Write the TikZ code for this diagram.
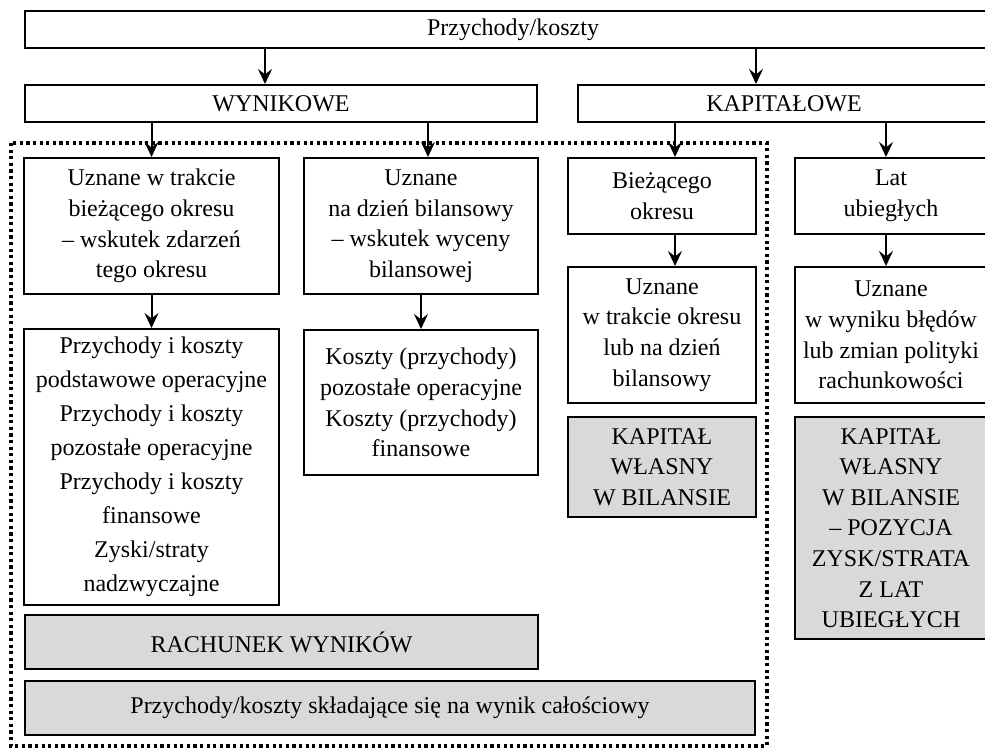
\documentclass[tikz,border=0pt]{standalone}
\usepackage{fontspec}
\setmainfont{Liberation Serif}
\usepackage{tikz}
\usetikzlibrary{arrows.meta}
\definecolor{boxgray}{RGB}{217,217,217}

\begin{document}
\begin{tikzpicture}[x=0.5pt, y=-0.5pt,
  every node/.style={draw, line width=1pt, align=center, inner sep=0pt,
    font=\fontsize{12}{15.3}\selectfont},
  grbox/.style={fill=boxgray},
  arr/.style={-{Stealth[length=7.5pt, width=7pt, inset=2.7pt]}, line width=1pt}]
  \useasboundingbox (0,0) rectangle (985,749);
  \clip (0,0) rectangle (985,749);
  \node [minimum width=488pt, minimum height=18.5pt] (top) at (513,29.5) {Przychody/koszty};
  \node [minimum width=256pt, minimum height=18.5pt] (wyn) at (281,103.5) {WYNIKOWE};
  \node [minimum width=206pt, minimum height=18.5pt] (kap) at (784,103.5) {KAPITAŁOWE};
  \node [minimum width=127.5pt, minimum height=68pt] (a) at (151.5,226) {Uznane w trakcie\\bieżącego okresu\\– wskutek zdarzeń\\tego okresu};
  \node [minimum width=117pt, minimum height=68pt] (b) at (421,226) {Uznane\\na dzień bilansowy\\– wskutek wyceny\\bilansowej};
  \node [minimum width=94pt, minimum height=38pt] (c) at (662,196) {Bieżącego\\okresu};
  \node [minimum width=96pt, minimum height=38pt] (d) at (891,196) {Lat\\ubiegłych};
  \node [minimum width=127.5pt, minimum height=138pt, font=\fontsize{12}{17}\selectfont] (a2) at (151.5,467) {Przychody i koszty\\podstawowe operacyjne\\Przychody i koszty\\pozostałe operacyjne\\Przychody i koszty\\finansowe\\Zyski/straty\\nadzwyczajne};
  \node [minimum width=117pt, minimum height=72.5pt] (b2) at (421,402.5) {Koszty (przychody)\\pozostałe operacyjne\\Koszty (przychody)\\finansowe};
  \node [minimum width=94pt, minimum height=68pt] (c2) at (662,335) {Uznane\\w trakcie okresu\\lub na dzień\\bilansowy};
  \node [minimum width=96pt, minimum height=68pt] (d2) at (891,335) {Uznane\\w wyniku błędów\\lub zmian polityki\\rachunkowości};
  \node [grbox, minimum width=94pt, minimum height=50pt] (c3) at (662,467) {KAPITAŁ\\WŁASNY\\W BILANSIE};
  \node [grbox, minimum width=96pt, minimum height=111pt] (d3) at (891,528) {KAPITAŁ\\WŁASNY\\W BILANSIE\\– POZYCJA\\ZYSK/STRATA\\Z LAT\\UBIEGŁYCH};
  \node [grbox, minimum width=256.5pt, minimum height=27pt] (rw) at (281.5,642) {RACHUNEK WYNIKÓW};
  \node [grbox, minimum width=365pt, minimum height=27pt] (pk) at (390,708) {Przychody/koszty składające się na wynik całościowy};
  \draw [line width=1.6pt, dash pattern=on 1.6pt off 1.7pt] (11,143) rectangle (767,746);
  \draw [arr] ([xshift=-8pt]top.south -| wyn.north) -- ([xshift=-8pt]wyn.north);
  \draw [arr] ([xshift=-14pt]top.south -| kap.north) -- ([xshift=-14pt]kap.north);
  \draw [arr] (wyn.south -| a.north) -- (a.north);
  \draw [arr] ([xshift=3.5pt]wyn.south -| b.north) -- ([xshift=3.5pt]b.north);
  \draw [arr] ([xshift=6.5pt]kap.south -| c.north) -- ([xshift=6.5pt]c.north);
  \draw [arr] ([xshift=-2.5pt]kap.south -| d.north) -- ([xshift=-2.5pt]d.north);
  \draw [arr] (a) -- (a2);
  \draw [arr] (b) -- (b2);
  \draw [arr] ([xshift=6.5pt]c.south) -- ([xshift=6.5pt]c2.north);
  \draw [arr] ([xshift=-2.5pt]d.south) -- ([xshift=-2.5pt]d2.north);
\end{tikzpicture}
\end{document}
